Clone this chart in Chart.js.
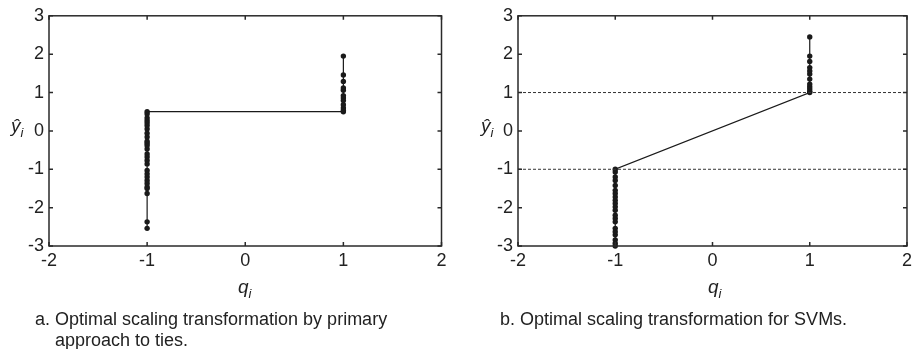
<!DOCTYPE html>
<html><head><meta charset="utf-8">
<script src="https://cdn.jsdelivr.net/npm/chart.js@4"></script>
<style>
html,body{margin:0;padding:0;background:#fff;width:916px;height:349px;overflow:hidden;font-family:"Liberation Sans",Arial,sans-serif;color:#222}
canvas{position:absolute;top:0}
.lbl{position:absolute;font-size:19px;white-space:nowrap;line-height:22px}
.lbl sub{font-size:13px;vertical-align:-5px}
.cap{position:absolute;font-size:18px;white-space:nowrap;line-height:21px}
</style></head><body>
<canvas id="c1" width="460" height="349" style="left:0"></canvas>
<canvas id="c2" width="456" height="349" style="left:460px"></canvas>
<div class="lbl" style="left:238px;top:276px"><i>q</i><sub><i>i</i></sub></div>
<div class="lbl" style="left:708px;top:276px"><i>q</i><sub><i>i</i></sub></div>
<div class="lbl" style="left:11px;top:115px"><i>ŷ</i><sub><i>i</i></sub></div>
<div class="lbl" style="left:481px;top:115px"><i>ŷ</i><sub><i>i</i></sub></div>
<div class="cap" style="left:35px;top:309px">a. Optimal scaling transformation by primary<br><span style="padding-left:20px">approach to ties.</span></div>
<div class="cap" style="left:500px;top:309px">b. Optimal scaling transformation for SVMs.</div>
<script>
const xTicks = [-2, -1, 0, 1, 2];
const yTicks = [-3, -2, -1, 0, 1, 2, 3];
const qLevels = [-1, 1];
// panel a: primary approach to ties
const aNeg = [-2.54, -2.37, -1.63, -1.50, -1.46, -1.37, -1.29, -1.20, -1.12, -1.03, -0.86, -0.77, -0.68, -0.60, -0.47, -0.38, -0.32, -0.27, -0.16, -0.06, 0.05, 0.14, 0.21, 0.27, 0.34, 0.44, 0.50];
const aPos = [0.50, 0.53, 0.60, 0.68, 0.79, 0.86, 0.92, 1.06, 1.12, 1.29, 1.46, 1.95];
// panel b: SVM
const bNeg = [-3.00, -2.93, -2.84, -2.71, -2.63, -2.54, -2.37, -2.28, -2.20, -2.07, -1.98, -1.89, -1.81, -1.72, -1.63, -1.55, -1.42, -1.29, -1.20, -1.07, -1.00];
const bPos = [1.00, 1.03, 1.09, 1.15, 1.22, 1.35, 1.48, 1.56, 1.65, 1.81, 1.95, 2.45];
const marginLevels = [-1, 1];

const INK = '#1a1a1a';
const boxPlugin = {
  id: 'box',
  afterDatasetsDraw(chart) {
    const {ctx, chartArea: a, scales: {x, y}} = chart;
    ctx.save();
    ctx.strokeStyle = '#2a2a2a';
    ctx.lineWidth = 1.5;
    ctx.beginPath();
    xTicks.forEach(v => {
      const px = x.getPixelForValue(v);
      ctx.moveTo(px, a.bottom); ctx.lineTo(px, a.bottom - 4);
      ctx.moveTo(px, a.top); ctx.lineTo(px, a.top + 4);
    });
    yTicks.forEach(v => {
      const py = y.getPixelForValue(v);
      ctx.moveTo(a.left, py); ctx.lineTo(a.left + 4, py);
      ctx.moveTo(a.right, py); ctx.lineTo(a.right - 4, py);
    });
    ctx.stroke();
    ctx.strokeRect(a.left, a.top, a.right - a.left, a.bottom - a.top);
    ctx.restore();
  }
};

function series(neg, pos) {
  return neg.map(v => ({x: qLevels[0], y: v})).concat(pos.map(v => ({x: qLevels[1], y: v})));
}

function makeChart(id, datasets, leftW, rightPad) {
  new Chart(document.getElementById(id), {
    type: 'scatter',
    data: {datasets},
    plugins: [boxPlugin],
    options: {
      responsive: false, animation: false, devicePixelRatio: 1,
      layout: {padding: {top: 15, right: rightPad, left: 0, bottom: 0}},
      plugins: {legend: {display: false}, tooltip: {enabled: false}},
      scales: {
        x: {
          type: 'linear', min: -2, max: 2,
          afterBuildTicks: s => { s.ticks = xTicks.map(v => ({value: v})); },
          afterFit: s => { s.height = 103; },
          grid: {display: false, drawTicks: false}, border: {display: false},
          ticks: {color: '#222', padding: 4, font: {family: 'Liberation Sans', size: 18}, maxRotation: 0}
        },
        y: {
          type: 'linear', min: -3, max: 3,
          afterBuildTicks: s => { s.ticks = yTicks.map(v => ({value: v})); },
          afterFit: s => { s.width = leftW; },
          grid: {display: false, drawTicks: false}, border: {display: false},
          ticks: {color: '#222', padding: 5, font: {family: 'Liberation Sans', size: 18}}
        }
      }
    }
  });
}

const lineStyle = {showLine: true, borderColor: INK, borderWidth: 1.2, pointRadius: 2.7, pointBackgroundColor: INK, pointBorderColor: INK, pointBorderWidth: 0, clip: false};

makeChart('c1', [
  Object.assign({data: series(aNeg, aPos)}, lineStyle)
], 49, 18.5);

makeChart('c2', [
  ...marginLevels.map(m => ({data: [{x: xTicks[0], y: m}, {x: xTicks[xTicks.length - 1], y: m}], showLine: true, borderColor: '#333', borderWidth: 1, borderDash: [3, 2], pointRadius: 0})),
  Object.assign({data: series(bNeg, bPos)}, lineStyle)
], 58, 5.5);
</script>
</body></html>
